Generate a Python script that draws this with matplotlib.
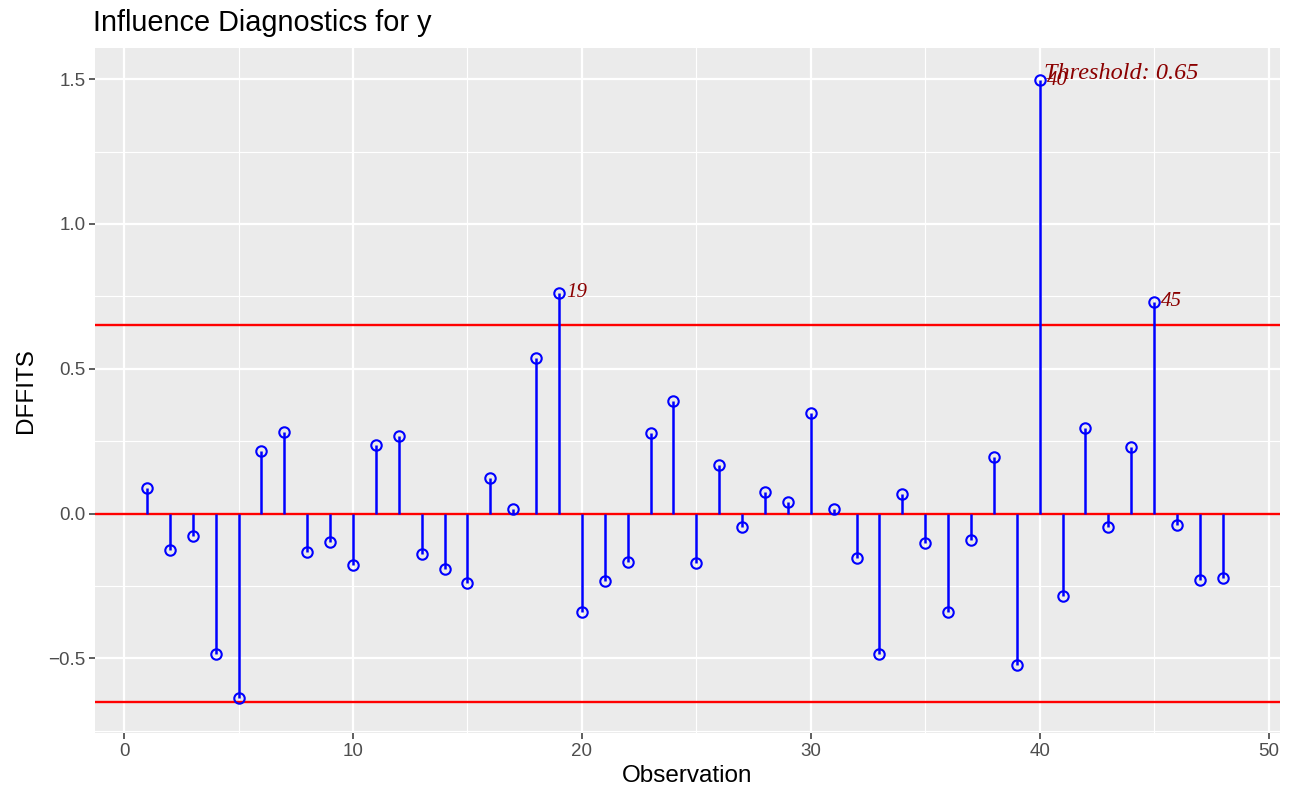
import matplotlib
matplotlib.use("Agg")
import matplotlib.pyplot as plt
import numpy as np

# DFFITS values
obs = list(range(1, 49))
dffits = [0.090, -0.124, -0.079, -0.486, -0.638, 0.217, 0.283, -0.134, -0.097, -0.179,
          0.238, 0.269, -0.141, -0.190, -0.238, 0.124, 0.017, 0.538, 0.762, -0.338,
          -0.234, -0.166, 0.279, 0.390, -0.169, 0.169, -0.045, 0.076, 0.041, 0.348,
          0.017, -0.152, -0.486, 0.066, -0.103, -0.341, -0.090, 0.197, -0.524, 1.497,
          -0.283, 0.297, -0.045, 0.231, 0.731, -0.041, -0.228, -0.221]
threshold = 0.65
labelled = [19, 40, 45]

plt.rcParams['font.family'] = ['Liberation Sans', 'DejaVu Sans']

fig = plt.figure(figsize=(12.95, 7.91), dpi=100)
ax = fig.add_axes([0.0734, 0.0733, 0.915, 0.866])
ax.set_facecolor('#EBEBEB')

# grid
ax.set_xticks([0, 10, 20, 30, 40, 50])
ax.set_xticks([5, 15, 25, 35, 45], minor=True)
ax.set_yticks([-0.5, 0.0, 0.5, 1.0, 1.5])
ax.set_yticks([-0.75, -0.25, 0.25, 0.75, 1.25], minor=True)
ax.grid(which='major', color='white', lw=1.6)
ax.grid(which='minor', color='white', lw=0.8)
ax.set_axisbelow(True)
for s in ax.spines.values():
    s.set_visible(False)

ax.axhline(threshold, color='red', lw=1.7, zorder=2)
ax.axhline(-threshold, color='red', lw=1.7, zorder=2)
ax.axhline(0, color='red', lw=1.7, zorder=2)

ax.vlines(obs, 0, dffits, color='blue', lw=1.8, zorder=3)
ax.plot(obs, dffits, 'o', mfc='none', mec='blue', ms=7.5, mew=1.5, zorder=4)

for o in labelled:
    ax.text(o + 0.3, dffits[o - 1], str(o), family='Liberation Serif', style='italic',
            color='#8B0000', fontsize=15, va='center', ha='left', zorder=5)

ax.text(40.2, 1.52, 'Threshold: %.2f' % threshold, family='Liberation Serif', style='italic',
        color='#8B0000', fontsize=17.5, va='center', ha='left', zorder=5)

ax.set_xlim(-1.27, 50.5)
ax.set_ylim(-0.7575, 1.6075)
ax.yaxis.set_major_formatter(matplotlib.ticker.FuncFormatter(
    lambda v, p: ('%.1f' % v).replace('-', '\u2212')))

ax.tick_params(which='major', length=4, width=1.1, color='#333333', labelcolor='#4D4D4D',
               labelsize=13.5, pad=3)
ax.tick_params(which='minor', length=0)

ax.set_xlabel('Observation', fontsize=17.5, labelpad=4)
ax.set_ylabel('DFFITS', fontsize=17.5, labelpad=8)
ax.set_title('Influence Diagnostics for y', loc='left', fontsize=20.8, pad=12, x=-0.002)

fig.savefig('out.png', dpi=100)
